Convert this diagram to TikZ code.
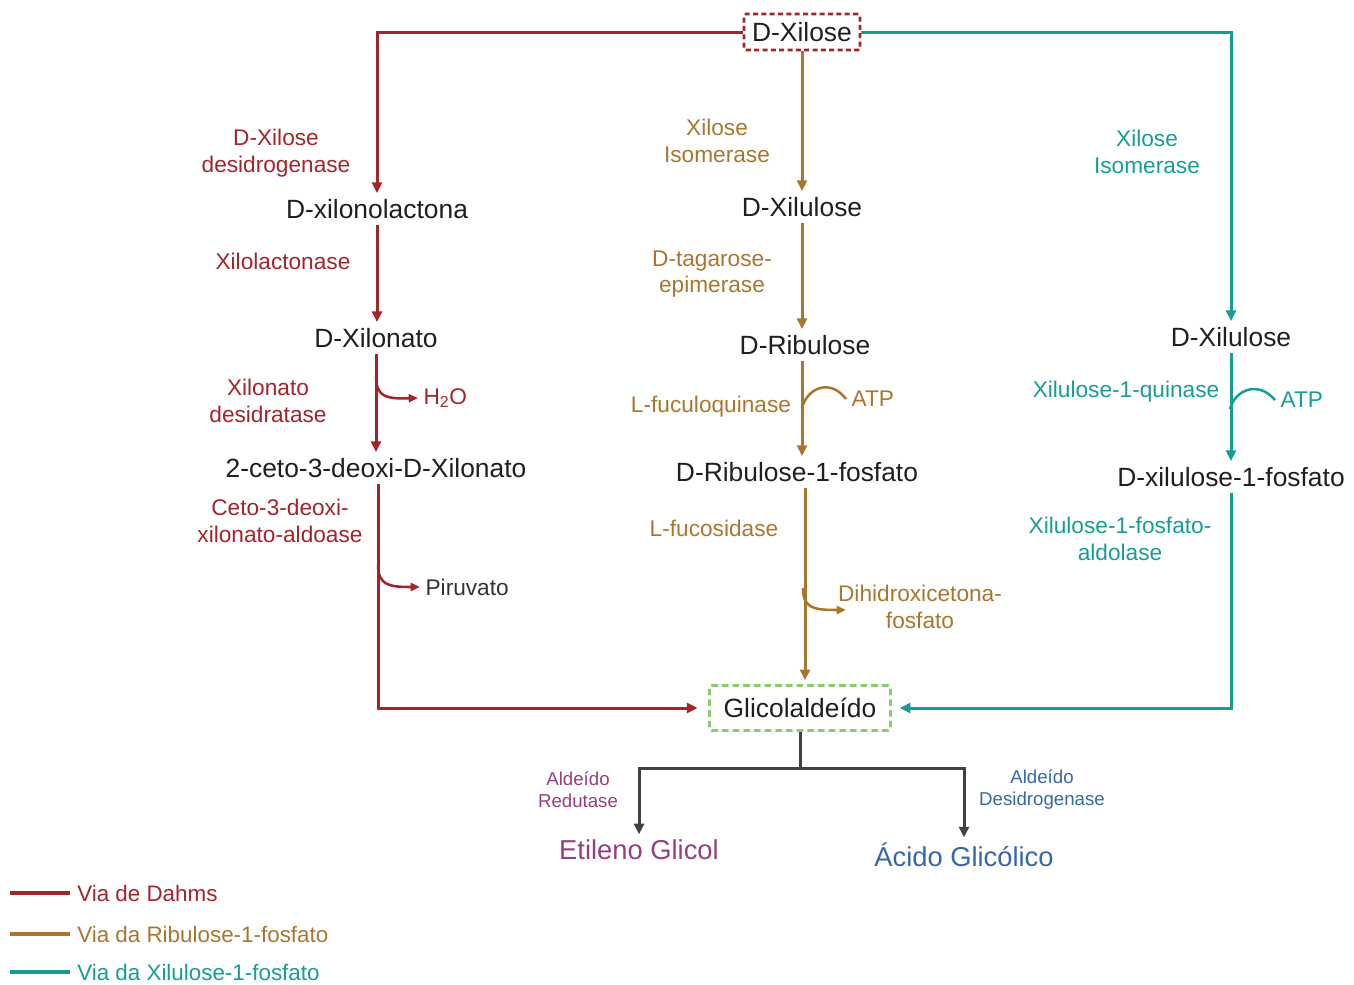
\documentclass[tikz,border=0pt]{standalone}
\usepackage{fontspec}
\setmainfont{Liberation Sans}
\usepackage{xcolor}
\usetikzlibrary{arrows.meta}

\definecolor{dahms}{RGB}{163,36,42}
\definecolor{ribu}{RGB}{170,118,46}
\definecolor{xilu}{RGB}{22,157,150}
\definecolor{trunk}{RGB}{66,66,66}
\definecolor{etil}{RGB}{150,62,126}
\definecolor{acid}{RGB}{55,104,160}
\definecolor{glbox}{RGB}{140,204,112}

\begin{document}
\begin{tikzpicture}[x=0.75pt,y=0.75pt,yscale=-1,xscale=1,
  mol/.style={inner xsep=1pt, inner ysep=4.5pt, text=black!88, font=\fontsize{19.8}{23}\selectfont},
  enz/.style={inner sep=0.75pt, align=center, font=\fontsize{17}{20}\selectfont},
  side/.style={inner xsep=4pt, inner ysep=0.75pt, anchor=west, font=\fontsize{17}{20}\selectfont},
  prod/.style={inner xsep=1pt, inner ysep=4pt, font=\fontsize{20.5}{24}\selectfont},
  ald/.style={inner sep=0.75pt, align=center, font=\fontsize{14}{16.5}\selectfont},
  legtext/.style={inner sep=0.75pt, anchor=west, font=\fontsize{16.8}{20}\selectfont},
  flow/.style={line width=2.25pt, -{Triangle[length=8pt,width=7.5pt]}},
  branch/.style={line width=1.9pt, -{Triangle[length=7pt,width=6pt]}},
  cofactor/.style={line width=1.9pt},
  legline/.style={line width=3pt},
]
\useasboundingbox (0,0) rectangle (1354,985);

% Boxes
\node [mol, draw=dahms, line width=1.9pt, dash pattern={on 3.75pt off 2.5pt}, rounded corners=1.5pt,
  minimum width=87pt, minimum height=27pt] (xilose) at (802,32) {D-Xilose};
\node [mol, draw=glbox, line width=1.9pt, dash pattern={on 5pt off 3pt}, rounded corners=1.5pt,
  minimum width=135.75pt, minimum height=33.75pt] (glicol) at (800,708) {Glicolaldeído};

% Text Node: Via de Dahms
\node [mol] (xilonolactona) at (377,209) {D-xilonolactona};
\node [mol] (xilonato) at (376,338) {D-Xilonato};
\node [mol] (ceto) at (376,468) {2-ceto-3-deoxi-D-Xilonato};
\node [side, text=dahms] (h2o) at (418,398) {H\textsubscript{2}O};
\node [side, text=black!80] (piruvato) at (420,587) {Piruvato};

% Text Node: Via da Ribulose-1-fosfato
\node [mol] (xilulose) at (802,207) {D-Xilulose};
\node [mol] (ribulose) at (805,345) {D-Ribulose};
\node [mol] (rib1p) at (797,472) {D-Ribulose-1-fosfato};
\node [side, text=ribu] (atpa) at (846,399) {ATP};
\node [enz, text=ribu] (dhap) at (920,607) {Dihidroxicetona-\\fosfato};

% Text Node: Via da Xilulose-1-fosfato
\node [mol] (xiluloseb) at (1231,337) {D-Xilulose};
\node [mol] (xil1p) at (1231,477) {D-xilulose-1-fosfato};
\node [side, text=xilu] (atpb) at (1275,400) {ATP};

% Text Node: produtos
\node [prod, text=etil] (etileno) at (639,850) {Etileno Glicol};
\node [prod, text=acid] (acido) at (964,855) {Ácido Glicólico};

% Enzimas
\node [enz, text=dahms] at (276,153) {D-Xilose\\desidrogenase};
\node [enz, text=dahms] at (283,261) {Xilolactonase};
\node [enz, text=dahms] at (268,401) {Xilonato\\desidratase};
\node [enz, text=dahms] at (280,521) {Ceto-3-deoxi-\\xilonato-aldoase};
\node [enz, text=ribu] at (717,141) {Xilose\\Isomerase};
\node [enz, text=ribu] at (712,274) {D-tagarose-\\epimerase};
\node [enz, text=ribu] at (711,407) {L-fuculoquinase};
\node [enz, text=ribu] at (714,528) {L-fucosidase};
\node [enz, text=xilu] at (1147,152) {Xilose\\Isomerase};
\node [enz, text=xilu] at (1126,392) {Xilulose-1-quinase};
\node [enz, text=xilu] at (1120,539) {Xilulose-1-fosfato-\\aldolase};
\node [ald, text=etil] at (578,790) {Aldeído\\Redutase};
\node [ald, text=acid] at (1042,790) {Aldeído\\Desidrogenase};

% Fork points
\coordinate (h2o-fork) at (376,376);
\coordinate (pir-fork) at (378,564);
\coordinate (atpa-fork) at (802,408);
\coordinate (dhap-fork) at (803,588);
\coordinate (dhap-tip) at (846,610);
\coordinate (atpb-fork) at (1230,409);
\coordinate (split) at (800,768);

%Straight Lines: Via de Dahms
\draw [flow, dahms] (xilose.west) -| (xilonolactona.north);
\draw [flow, dahms] (xilonolactona.south) -- (xilonolactona.south |- xilonato.north);
\draw [flow, dahms] (xilonato.south) -- (xilonato.south |- ceto.north);
\draw [branch, dahms] (h2o-fork) .. controls (376,397) and (386,399) .. (h2o.west);
\draw [flow, dahms, shorten >=8pt] ([xshift=2]ceto.south) |- (glicol.west);
\draw [branch, dahms] (pir-fork) .. controls (378,585) and (388,587) .. (piruvato.west);

%Straight Lines: Via da Ribulose-1-fosfato
\draw [flow, ribu] (xilose.south) -- (xilose.south |- xilulose.north);
\draw [flow, ribu] (xilulose.south) -- (xilulose.south |- ribulose.north);
\draw [flow, ribu] (xilulose.south |- ribulose.south) -- (xilulose.south |- rib1p.north);
\draw [cofactor, ribu] (atpa-fork) .. controls (807,388) and (830,378) .. (atpa.west);
\draw [flow, ribu, shorten >=3pt] ([xshift=6]rib1p.south) -- ([xshift=6]rib1p.south |- glicol.north);
\draw [branch, ribu] (dhap-fork) .. controls (803,608) and (813,610) .. (dhap-tip);

%Straight Lines: Via da Xilulose-1-fosfato
\draw [flow, xilu] (xilose.east) -| (xiluloseb.north);
\draw [flow, xilu] (xiluloseb.south) -- (xiluloseb.south |- xil1p.north);
\draw [cofactor, xilu] (atpb-fork) .. controls (1235,390) and (1258,380) .. (atpb.west);
\draw [flow, xilu, shorten >=6pt] (xil1p.south) |- (glicol.east);

%Straight Lines: produtos
\draw [line width=2.25pt, trunk] (glicol.south) -- (split);
\draw [flow, trunk] (split) -| (etileno.north);
\draw [flow, trunk] (split) -| (acido.north);

% Legend
\draw [legline, dahms] (10,893) -- (70,893);
\node [legtext, text=dahms] at (76,893) {Via de Dahms};
\draw [legline, ribu] (10,934) -- (70,934);
\node [legtext, text=ribu] at (76,934) {Via da Ribulose-1-fosfato};
\draw [legline, xilu] (10,972) -- (70,972);
\node [legtext, text=xilu] at (76,972) {Via da Xilulose-1-fosfato};
\end{tikzpicture}
\end{document}
